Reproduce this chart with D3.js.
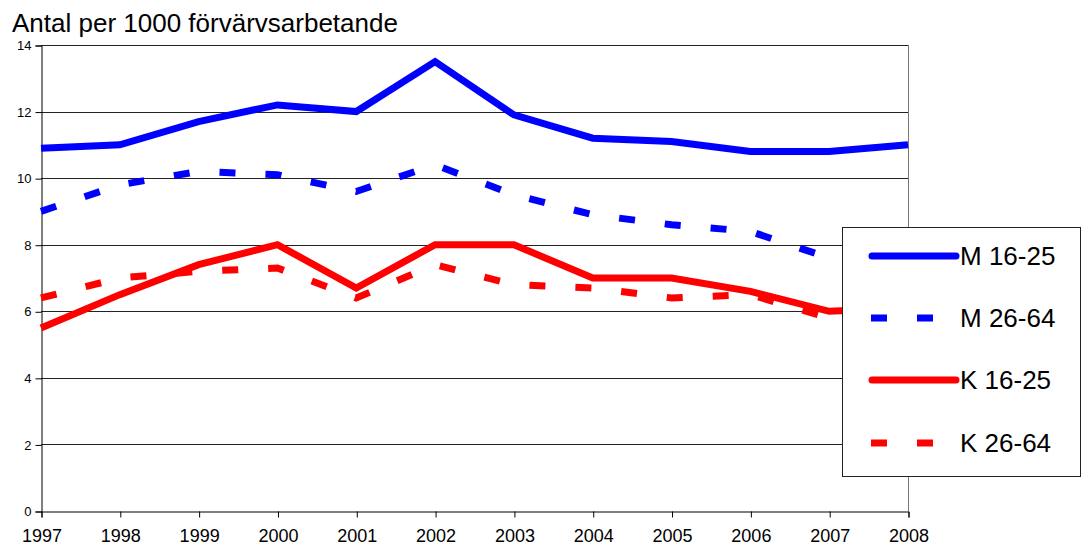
<!DOCTYPE html>
<html>
<head>
<meta charset="utf-8">
<script src="https://cdn.jsdelivr.net/npm/d3@7"></script>
<style>
  body { margin: 0; background: #fff; }
  svg { font-family: Arial, "Liberation Sans", sans-serif; }
</style>
</head>
<body>
<div id="chart"></div>
<script>
// years on the x axis
const years = [1997, 1998, 1999, 2000, 2001, 2002, 2003, 2004, 2005, 2006, 2007, 2008];
const yTicks = [0, 2, 4, 6, 8, 10, 12, 14];

// values
const m1625 = [10.9, 11.0, 11.7, 12.2, 12.0, 13.5, 11.9, 11.2, 11.1, 10.8, 10.8, 11.0];
const m2664 = [9.0, 9.8, 10.2, 10.1, 9.6, 10.4, 9.5, 8.9, 8.6, 8.4, 7.6, 7.4];
const k1625 = [5.5, 6.5, 7.4, 8.0, 6.7, 8.0, 8.0, 7.0, 7.0, 6.6, 6.0, 6.1];
const k2664 = [6.4, 7.0, 7.2, 7.3, 6.4, 7.4, 6.8, 6.7, 6.4, 6.5, 5.8, 5.9];

const seriesNames = ["M 16-25", "M 26-64", "K 16-25", "K 26-64"];
const seriesValues = [m1625, m2664, k1625, k2664];
const seriesColors = ["#0000ff", "#0000ff", "#ff0000", "#ff0000"];
const seriesDashed = [false, true, false, true];

const width = 1082, height = 549;
const margin = {top: 45, right: 174, bottom: 38, left: 41};

const svg = d3.select("#chart")
  .append("svg")
  .attr("width", width)
  .attr("height", height);

const xScale = d3.scaleLinear()
  .domain([years[0], years[years.length - 1]])
  .range([margin.left, width - margin.right]);

const yScale = d3.scaleLinear()
  .domain([0, 14])
  .range([height - margin.bottom, margin.top]);

// title
svg.append("text")
  .attr("x", 12)
  .attr("y", 32)
  .attr("font-size", "26px")
  .attr("fill", "#000")
  .text("Antal per 1000 förvärvsarbetande");

// horizontal gridlines
svg.append("g")
  .selectAll("line")
  .data(yTicks.filter(d => d > 0))
  .enter()
  .append("line")
    .attr("x1", margin.left)
    .attr("x2", width - margin.right)
    .attr("y1", d => Math.round(yScale(d)) + 0.5)
    .attr("y2", d => Math.round(yScale(d)) + 0.5)
    .attr("stroke", "#222")
    .attr("stroke-width", 1);

// right border of plot area
svg.append("line")
  .attr("x1", width - margin.right + 0.5)
  .attr("x2", width - margin.right + 0.5)
  .attr("y1", yScale(14))
  .attr("y2", yScale(0))
  .attr("stroke", "#777");

// y axis
const yAxis = svg.append("g")
  .attr("transform", `translate(${margin.left + 0.5}, 0.5)`)
  .call(d3.axisLeft(yScale).tickValues(yTicks).tickSize(6).tickPadding(4));
yAxis.selectAll("text").attr("font-size", "13px").attr("fill", "#000");
yAxis.selectAll("line, path").attr("stroke", "#000");

// x axis
const xAxis = svg.append("g")
  .attr("transform", `translate(0.5, ${Math.round(yScale(0)) + 0.5})`)
  .call(d3.axisBottom(xScale).tickValues(years).tickFormat(d3.format("d")).tickSize(6).tickPadding(12));
xAxis.selectAll("text").attr("font-size", "18px").attr("fill", "#000");
xAxis.selectAll("line, path").attr("stroke", "#000");

// lines
const line = d3.line()
  .x((d, i) => xScale(years[i]))
  .y(d => yScale(d));

svg.append("g")
  .selectAll("path")
  .data(seriesValues)
  .enter()
  .append("path")
    .attr("d", d => line(d))
    .attr("fill", "none")
    .attr("stroke", (d, i) => seriesColors[i])
    .attr("stroke-width", 7)
    .attr("stroke-linejoin", "miter")
    .attr("stroke-dasharray", (d, i) => seriesDashed[i] ? "16,30" : null);

// legend
const legend = svg.append("g");
legend.append("rect")
  .attr("x", 842.5)
  .attr("y", 227.5)
  .attr("width", 238)
  .attr("height", 249)
  .attr("fill", "#fff")
  .attr("stroke", "#222");

const rowY = [256, 318, 380, 443];
const items = legend.selectAll("g.item")
  .data(seriesNames)
  .enter()
  .append("g")
  .attr("class", "item")
  .attr("transform", (d, i) => `translate(0, ${rowY[i]})`);

items.append("line")
  .attr("x1", (d, i) => seriesDashed[i] ? 871 : 872)
  .attr("x2", 956)
  .attr("y1", 0)
  .attr("y2", 0)
  .attr("stroke", (d, i) => seriesColors[i])
  .attr("stroke-width", 7)
  .attr("stroke-linecap", (d, i) => seriesDashed[i] ? "butt" : "round")
  .attr("stroke-dasharray", (d, i) => seriesDashed[i] ? "16,30" : null);

items.append("text")
  .attr("x", 960)
  .attr("y", 9)
  .attr("font-size", "26px")
  .attr("fill", "#000")
  .text(d => d);
</script>
</body>
</html>
